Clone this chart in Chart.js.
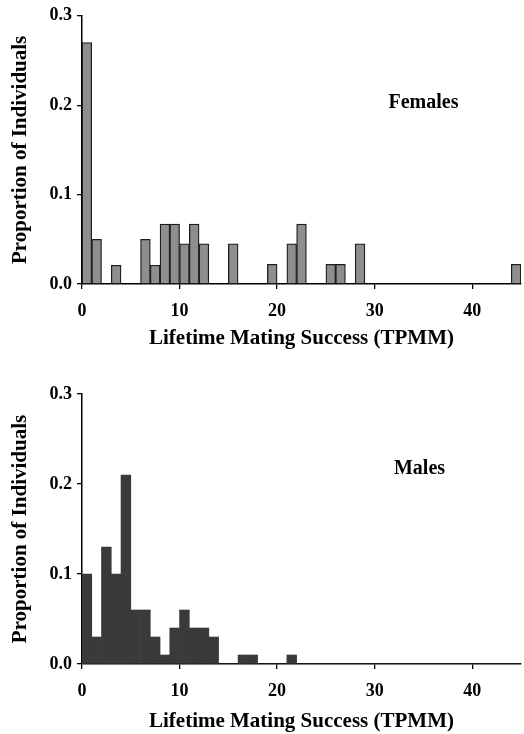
<!DOCTYPE html>
<html>
<head>
<meta charset="utf-8">
<script src="https://cdn.jsdelivr.net/npm/chart.js@4.4.1/dist/chart.umd.min.js"></script>
<style>
  body { margin: 0; background: #fff; }
  .panel { position: absolute; left: 0; width: 524px; height: 367px; }
</style>
</head>
<body>
<div class="panel" style="top:0"><canvas id="femaleChart" width="524" height="367"></canvas></div>
<div class="panel" style="top:367px"><canvas id="maleChart" width="524" height="367"></canvas></div>
<script>
// bins of width 1: 0-1, 1-2, ... 44-45
const bins = Array.from({ length: 45 }, (_, i) => i);

// proportion of females per bin
const femaleValues = [
  0.27, 0.05, 0, 0.021, 0, 0, 0.05, 0.021, 0.067, 0.067,
  0.045, 0.067, 0.045, 0, 0, 0.045, 0, 0, 0, 0.022,
  0, 0.045, 0.067, 0, 0, 0.022, 0.022, 0, 0.045, 0,
  0, 0, 0, 0, 0, 0, 0, 0, 0, 0,
  0, 0, 0, 0, 0.022
];

// proportion of males per bin
const maleValues = [
  0.10, 0.03, 0.13, 0.10, 0.21, 0.06, 0.06, 0.03, 0.01, 0.04,
  0.06, 0.04, 0.04, 0.03, 0, 0, 0.01, 0.01, 0, 0,
  0, 0.01, 0, 0, 0, 0, 0, 0, 0, 0,
  0, 0, 0, 0, 0, 0, 0, 0, 0, 0,
  0, 0, 0, 0, 0
];

const yTicks = [0, 0.1, 0.2, 0.3];
const xTicks = [0, 10, 20, 30, 40];

const serif = "'Liberation Serif', 'Times New Roman', serif";

// draws the "Females" / "Males" tag inside the plot
const groupLabel = {
  id: "groupLabel",
  afterDraw(chart, args, opts) {
    const { ctx, scales } = chart;
    ctx.save();
    ctx.font = "bold 20px " + serif;
    ctx.fillStyle = "#000";
    ctx.textAlign = "center";
    ctx.textBaseline = "middle";
    ctx.fillText(opts.text, scales.x.getPixelForValue(opts.x), scales.y.getPixelForValue(opts.y));
    ctx.restore();
  }
};

function buildChart(id, values, fill, border, label, topPad, axisHeight, titlePad, labelPos) {
  const ctx = document.getElementById(id).getContext("2d");
  return new Chart(ctx, {
    type: "bar",
    data: {
      datasets: [{
        data: bins.map((b, i) => ({ x: b + 0.5, y: values[i] })),
        backgroundColor: fill,
        borderColor: border,
        borderWidth: border ? 1.3 : 0,
        borderSkipped: "bottom",
        barPercentage: 1,
        categoryPercentage: 1
      }]
    },
    options: {
      responsive: false,
      animation: false,
      layout: { padding: { top: topPad, right: 3, left: 0, bottom: 0 } },
      plugins: {
        legend: { display: false },
        tooltip: { enabled: false },
        groupLabel: { text: label, x: labelPos[0], y: labelPos[1] }
      },
      scales: {
        x: {
          type: "linear",
          min: 0,
          max: 45,
          offset: false,
          afterFit: (s) => { s.height = axisHeight; },
          afterBuildTicks: (s) => { s.ticks = xTicks.map(v => ({ value: v })); },
          grid: { offset: false, drawOnChartArea: false, drawTicks: true, tickLength: 5, color: "#000", lineWidth: 1.3 },
          border: { display: true, color: "#000", width: 1.5 },
          ticks: { color: "#000", padding: 12, maxRotation: 0, font: { family: serif, size: 18, weight: "bold" } },
          title: {
            display: true,
            text: "Lifetime Mating Success (TPMM)",
            color: "#000",
            padding: { top: 0, bottom: titlePad },
            font: { family: serif, size: 21, weight: "bold" }
          }
        },
        y: {
          min: 0,
          max: 0.3,
          afterFit: (s) => { s.width = 82; },
          afterBuildTicks: (s) => { s.ticks = yTicks.map(v => ({ value: v })); },
          grid: { drawOnChartArea: false, drawTicks: true, tickLength: 5, color: "#000", lineWidth: 1.3 },
          border: { display: true, color: "#000", width: 1.5 },
          ticks: {
            color: "#000",
            padding: 5,
            font: { family: serif, size: 18, weight: "bold" },
            callback: (v) => v.toFixed(1)
          },
          title: {
            display: true,
            text: "Proportion of Individuals",
            color: "#000",
            padding: { top: 8, bottom: 0 },
            font: { family: serif, size: 21, weight: "bold" }
          }
        }
      }
    },
    plugins: [groupLabel]
  });
}

buildChart("femaleChart", femaleValues, "#8e8e8e", "#1e1e1e", "Females", 14, 83, 16, [35, 0.203]);
buildChart("maleChart", maleValues, "#3a3a3a", null, "Males", 27, 70, 0, [34.6, 0.217]);
</script>
</body>
</html>
